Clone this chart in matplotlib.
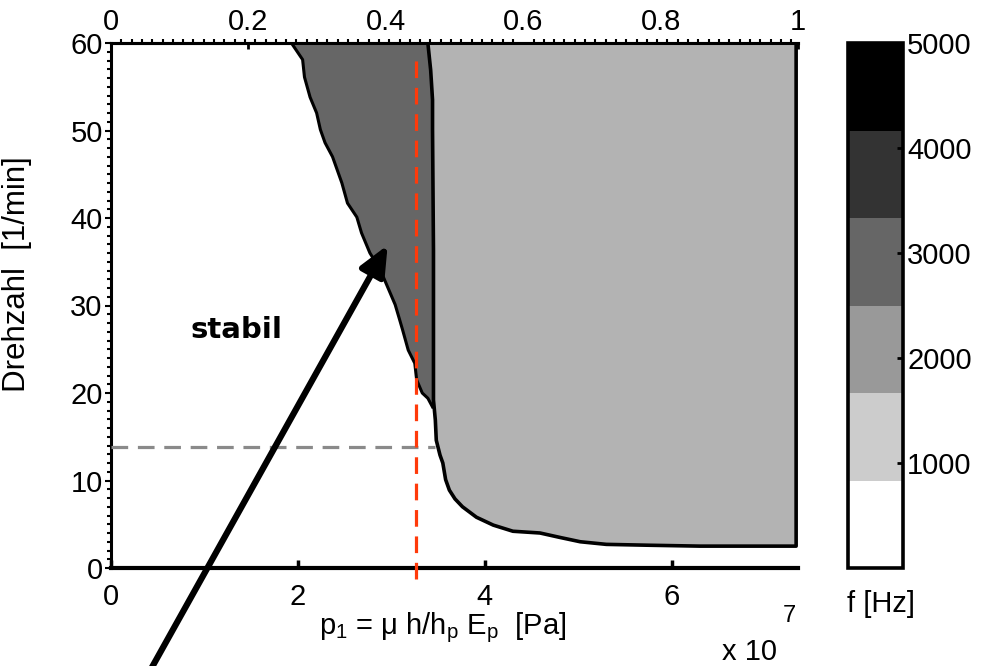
import matplotlib
matplotlib.use('Agg')
import matplotlib as mpl
import matplotlib.pyplot as plt
from matplotlib.colors import ListedColormap, BoundaryNorm
from matplotlib.ticker import MultipleLocator

plt.rcParams['font.family'] = ['Liberation Sans', 'DejaVu Sans']
plt.rcParams['mathtext.fontset'] = 'custom'
plt.rcParams['mathtext.rm'] = 'Liberation Sans'
plt.rcParams['mathtext.it'] = 'Liberation Sans:italic'
plt.rcParams['lines.scale_dashes'] = False

# p1 in units of 1e7 Pa, Drehzahl in 1/min
x_max = 7.35
y_max = 60

# boundary of the light gray region (f ~ 1000-2000 Hz), top -> bottom -> right
light_x = [3.39, 3.42, 3.44, 3.44, 3.45, 3.45, 3.47, 3.48, 3.52, 3.55, 3.58, 3.62,
           3.68, 3.76, 3.91, 4.09, 4.30, 4.59, 4.80, 5.02, 5.30, 5.76, 6.30, 7.33]
light_y = [60.0, 56.9, 53.5, 50.1, 36.3, 19.2, 16.9, 14.6, 12.9, 12.0, 10.1, 8.9,
           7.9, 7.0, 5.8, 4.9, 4.2, 4.0, 3.5, 3.0, 2.7, 2.6, 2.5, 2.5]

# left (stability) boundary of the dark gray region (f ~ 3000 Hz)
dark_x = [1.93, 2.05, 2.07, 2.13, 2.20, 2.24, 2.29, 2.37, 2.42, 2.47, 2.53, 2.63,
          2.68, 2.77, 2.88, 2.96, 3.04, 3.09, 3.12, 3.18, 3.25, 3.27, 3.33, 3.39, 3.44]
dark_y = [60.0, 58.1, 56.1, 53.8, 52.0, 50.1, 48.6, 47.0, 45.5, 44.0, 41.7, 40.1,
          38.3, 36.0, 34.1, 32.1, 30.1, 28.3, 27.2, 24.9, 23.4, 21.5, 20.0, 19.4, 18.4]

p1_crit = 3.26   # red dashed line
n_crit = 13.8    # gray dashed line
n_crit_end = 3.47

arrow_tip = (2.96, 36.9)

cbar_levels = [0, 833.3, 1666.7, 2500, 3333.3, 4166.7, 5000]
cbar_colors = ['white', '#cccccc', '#999999', '#666666', '#333333', 'black']
cbar_ticks = [1000, 2000, 3000, 4000, 5000]

fig = plt.figure(figsize=(9.98, 6.66), dpi=100)
ax = fig.add_axes([111 / 998, 98 / 666, 687 / 998, 525 / 666])

# regions
dark_poly_x = dark_x + [3.6, 3.6]
dark_poly_y = dark_y + [18.4, 60]
ax.fill(dark_poly_x, dark_poly_y, color='#666666', lw=0, zorder=1)
ax.plot(dark_x, dark_y, color='black', lw=2.2, zorder=3)

light_poly_x = light_x + [7.33]
light_poly_y = light_y + [60]
ax.fill(light_poly_x, light_poly_y, facecolor='#b3b3b3', edgecolor='black', lw=2.6,
        joinstyle='round', zorder=2)

# dashed guide lines
ax.plot([0, n_crit_end], [n_crit, n_crit], color='#8a8a8a', lw=2.3, dashes=(12, 7), zorder=4)
ax.plot([p1_crit, p1_crit], [-1.2, 58.9], color='#ff3a0a', lw=2.3, dashes=(12, 7),
        zorder=4, clip_on=False)

ax.text(1.34, 26.3, 'stabil', family='DejaVu Sans', weight='bold', fontsize=21,
        ha='center', va='baseline', zorder=6)

ax.annotate('', xy=arrow_tip, xycoords='data', xytext=(151, -3), textcoords='figure pixels',
            arrowprops=dict(arrowstyle='-|>,head_length=0.9,head_width=0.4', lw=4.5,
                            color='black', shrinkA=0, shrinkB=0, mutation_scale=20),
            annotation_clip=False, zorder=7)

ax.set_xlim(0, x_max)
ax.set_ylim(0, y_max)

for s in ['left', 'top']:
    ax.spines[s].set_linewidth(2.2)
ax.spines['bottom'].set_linewidth(3)
ax.spines['right'].set_visible(False)

ax.set_xticks([0, 2, 4, 6], ['0', '2', '4', '6'])
ax.tick_params(axis='x', direction='in', length=6, width=2.5, pad=11, labelsize=21,
               top=False)
ax.set_yticks([0, 10, 20, 30, 40, 50, 60])
ax.yaxis.set_minor_locator(MultipleLocator(1))
ax.tick_params(axis='y', which='major', direction='out', length=4, width=1.5, pad=2,
               labelsize=21)
ax.tick_params(axis='y', which='minor', direction='out', length=3, width=1.5)

sec = ax.secondary_xaxis('top', functions=(lambda x: x / x_max, lambda t: t * x_max))
sec.set_xticks([0, 0.2, 0.4, 0.6, 0.8, 1], ['0', '0.2', '0.4', '0.6', '0.8', '1'])
sec.xaxis.set_minor_locator(MultipleLocator(0.015))
sec.tick_params(which='major', direction='in', length=4, width=2, pad=5, labelsize=21)
sec.tick_params(which='minor', direction='out', length=3, width=1.5)
sec.spines['top'].set_linewidth(2.2)

ax.set_ylabel('Drehzahl  [1/min]', fontsize=22.5)
ax.yaxis.set_label_coords(-0.115, 0.56)
ax.set_xlabel('p$_1$ = μ h/h$_\\mathrm{p}$ E$_\\mathrm{p}$  [Pa]', fontsize=21)
ax.xaxis.set_label_coords(0.483, -0.08)

fig.text(722 / 998, 6 / 666, 'x 10', fontsize=21, ha='left', va='baseline')
fig.text(783 / 998, 44 / 666, '7', fontsize=17, ha='left', va='baseline')

# colorbar
cax = fig.add_axes([848 / 998, 98 / 666, 55 / 998, 525 / 666])
sm = mpl.cm.ScalarMappable(norm=BoundaryNorm(cbar_levels, len(cbar_colors)),
                           cmap=ListedColormap(cbar_colors))
cb = fig.colorbar(sm, cax=cax)
cb.set_ticks(cbar_ticks, labels=[str(t) for t in cbar_ticks])
cb.outline.set_linewidth(2.6)
cax.tick_params(direction='in', length=4, width=2, pad=3, labelsize=21)
cax.minorticks_off()
fig.text(881 / 998, 54 / 666, 'f [Hz]', fontsize=21, ha='center', va='baseline')

plt.savefig('out.png', dpi=100)
